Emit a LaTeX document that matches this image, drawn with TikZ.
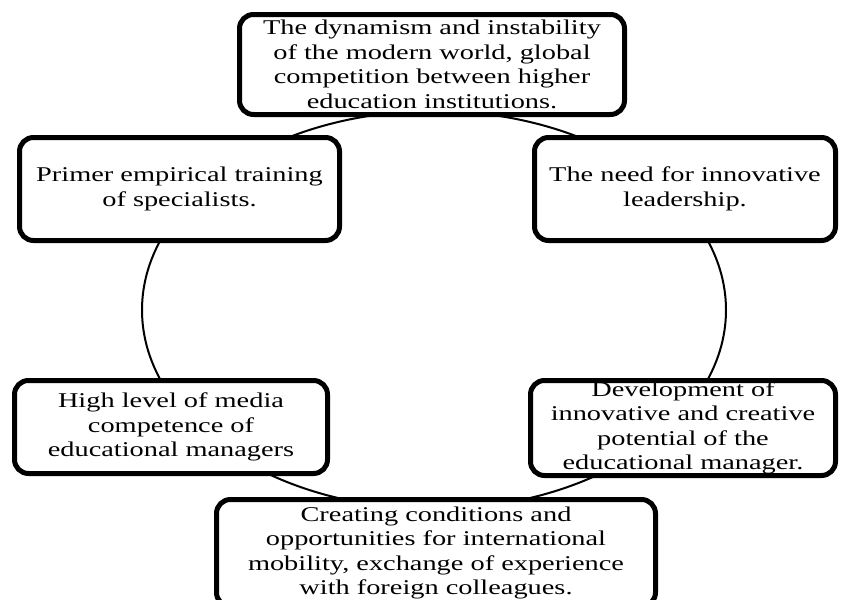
\documentclass[tikz,border=0pt]{standalone}
\usepackage{fontspec}
\setmainfont{Liberation Serif}[FakeStretch=1.35]
\begin{document}
\begin{tikzpicture}[x=1pt,y=-1pt,
  box/.style={draw=black, line width=5pt, rounded corners=14pt, fill=white,
    align=center, inner sep=0pt, font=\fontsize{21}{24.5}\selectfont},
  ring/.style={draw=black, line width=2pt}
]
\useasboundingbox (0,0) rectangle (847,600);
\coordinate (c) at (434,310);
\draw[ring] (c) ellipse [x radius=292, y radius=199];
\node[box, minimum width=385pt, minimum height=100pt] (top) at (432,64.5)
  {The dynamism and instability\\of the modern world, global\\competition between higher\\education institutions.};
\node[box, minimum width=320pt, minimum height=103pt] (lu) at (179.5,189)
  {Primer empirical training\\of specialists.};
\node[box, minimum width=301pt, minimum height=103pt] (ru) at (685,189)
  {The need for innovative\\leadership.};
\node[box, minimum width=313pt, minimum height=93pt] (ll) at (171,427)
  {High level of media\\competence of\\educational managers};
\node[box, minimum width=305pt, minimum height=95pt] (rl) at (683,428)
  {Development of\\innovative and creative\\potential of the\\educational manager.};
\node[box, minimum width=439pt, minimum height=107pt] (bot) at (436,553)
  {Creating conditions and\\opportunities for international\\mobility, exchange of experience\\with foreign colleagues.};
\end{tikzpicture}
\end{document}
